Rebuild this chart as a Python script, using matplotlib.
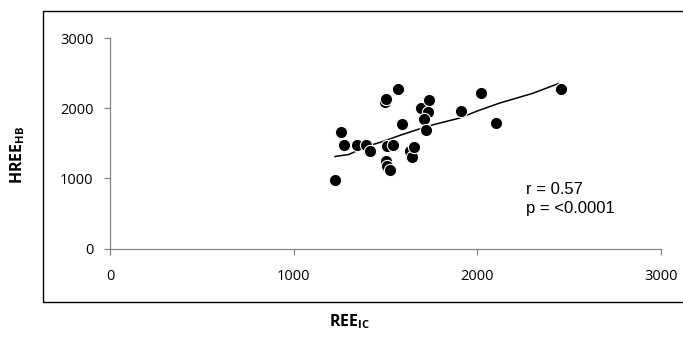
import numpy as np
import matplotlib.pyplot as plt
import matplotlib.patches as mpatches

# --- datos ---
ree_ic = [1223, 1257, 1272, 1346, 1392, 1415, 1495, 1502, 1568, 1591,
          1510, 1539, 1502, 1510, 1524, 1633, 1644, 1657, 1695, 1738,
          1729, 1709, 1718, 1909, 2020, 2101, 2455]
hree_hb = [979, 1660, 1479, 1479, 1479, 1383, 2083, 2136, 2274, 1774,
           1464, 1479, 1240, 1179, 1121, 1383, 1303, 1440, 2003, 2121,
           1940, 1846, 1683, 1964, 2211, 1789, 2274]

trend_x = [1225, 1300, 1396, 1480, 1579, 1680, 1760, 1905, 2000, 2123, 2300, 2441]
trend_y = [1311, 1340, 1454, 1520, 1613, 1700, 1764, 1860, 1960, 2074, 2210, 2350]

ticks = [0, 1000, 2000, 3000]
r_text = "r = 0.57"
p_text = "p = <0.0001"

plt.rcParams['font.family'] = ['Open Sans', 'DejaVu Sans']
plt.rcParams['mathtext.fontset'] = 'custom'
plt.rcParams['mathtext.rm'] = 'Open Sans'
plt.rcParams['mathtext.bf'] = 'Open Sans:bold'

W, H = 683, 340
fig = plt.figure(figsize=(W / 100, H / 100), dpi=100)
ax = fig.add_axes([110 / W, 1 - 248.5 / H, (661 - 110) / W, (248.5 - 38) / H])

# recuadro exterior
fig.patches.append(mpatches.Rectangle((43 / W, 1 - 302 / H), 1.0, (302 - 11) / H,
                                      transform=fig.transFigure, fill=False,
                                      edgecolor='black', linewidth=1.0))

ax.plot(trend_x, trend_y, color='black', linewidth=1.1, zorder=2)
ax.scatter(ree_ic, hree_hb, s=78, color='black', edgecolors='white',
           linewidths=0.8, zorder=3)

ax.set_xlim(0, 3000)
ax.set_ylim(0, 3000)
ax.set_xticks(ticks)
ax.set_yticks(ticks)
for s in ['top', 'right']:
    ax.spines[s].set_visible(False)
for s in ['left', 'bottom']:
    ax.spines[s].set_color('#868686')
    ax.spines[s].set_linewidth(0.9)
ax.tick_params(colors='#868686', labelcolor='black', labelsize=10.5,
               length=4, width=0.9)
ax.tick_params(axis='x', pad=11)
ax.tick_params(axis='y', pad=8)

ax.text(526 / W, 1 - 193.5 / H, r_text, transform=fig.transFigure,
        family='Liberation Sans', fontsize=12, va='baseline', ha='left')
ax.text(526 / W, 1 - 213.5 / H, p_text, transform=fig.transFigure,
        family='Liberation Sans', fontsize=12, va='baseline', ha='left')

fig.text(18 / W, 1 - 155 / H, r'$\mathbf{HREE_{HB}}$', rotation=90,
         ha='center', va='center', fontsize=11.5)
fig.text(350 / W, 1 - 322 / H, r'$\mathbf{REE_{IC}}$',
         ha='center', va='center', fontsize=11.5)

fig.savefig('out.png', dpi=100)
